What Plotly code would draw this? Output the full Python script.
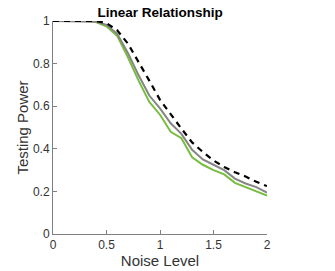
import plotly.graph_objects as go

noise = [0, 0.1, 0.2, 0.3, 0.4, 0.5, 0.6, 0.7, 0.8, 0.9, 1.0,
         1.1, 1.2, 1.3, 1.4, 1.5, 1.6, 1.7, 1.8, 1.9, 2.0]
green = [1, 1, 1, 1, 0.995, 0.975, 0.93, 0.83, 0.72, 0.62, 0.56,
         0.48, 0.45, 0.36, 0.325, 0.30, 0.28, 0.24, 0.22, 0.20, 0.18]
gray = [1, 1, 1, 1, 0.997, 0.982, 0.94, 0.85, 0.745, 0.65, 0.59,
        0.52, 0.47, 0.395, 0.35, 0.325, 0.30, 0.26, 0.237, 0.22, 0.194]
black = [1, 1, 1, 1, 1, 0.99, 0.956, 0.894, 0.81, 0.72, 0.63,
         0.56, 0.495, 0.43, 0.385, 0.345, 0.315, 0.29, 0.27, 0.245, 0.225]

xticks = [0, 0.5, 1, 1.5, 2]
xticklabels = ["0", "0.5", "1", "1.5", "2"]
yticks = [0, 0.2, 0.4, 0.6, 0.8, 1]
yticklabels = ["0", "0.2", "0.4", "0.6", "0.8", "1"]

fig = go.Figure()
fig.add_trace(go.Scatter(x=noise, y=green, mode="lines",
                         line=dict(color="#77BE3E", width=2), showlegend=False))
fig.add_trace(go.Scatter(x=noise, y=gray, mode="lines",
                         line=dict(color="#858585", width=2), showlegend=False))
fig.add_trace(go.Scatter(x=noise, y=black, mode="lines",
                         line=dict(color="black", width=2.2, dash="6px,5px"), showlegend=False))

font = "Liberation Sans, Arial, sans-serif"
fig.update_layout(
    width=335, height=271,
    margin=dict(l=53, r=68, t=21, b=37),
    plot_bgcolor="white", paper_bgcolor="white",
    font=dict(family=font, color="#262626"),
    title=dict(text="<b>Linear Relationship</b>", x=0.478, xanchor="center",
               y=0.955, yanchor="middle", font=dict(size=13.5, color="black", family=font)),
)
fig.update_xaxes(range=[0, 2], tickvals=xticks, ticktext=xticklabels, automargin=False,
                 showgrid=False, zeroline=False, showline=True, linecolor="#808080",
                 linewidth=1, ticks="inside", ticklen=4, tickcolor="#808080",
                 tickfont=dict(size=12, color="#333333"),
                 title=dict(text="Noise Level", font=dict(size=15, color="#333333"), standoff=2))
fig.update_yaxes(range=[0, 1], tickvals=yticks, ticktext=yticklabels, automargin=False,
                 showgrid=False, zeroline=False, showline=True, linecolor="#808080",
                 linewidth=1, ticks="inside", ticklen=4, tickcolor="#808080",
                 tickfont=dict(size=12, color="#333333"),
                 title=dict(text="Testing Power", font=dict(size=15, color="#333333"), standoff=0))

fig.write_html("out.html", config={"displayModeBar": False},
               post_script="document.body.style.margin='0';")
